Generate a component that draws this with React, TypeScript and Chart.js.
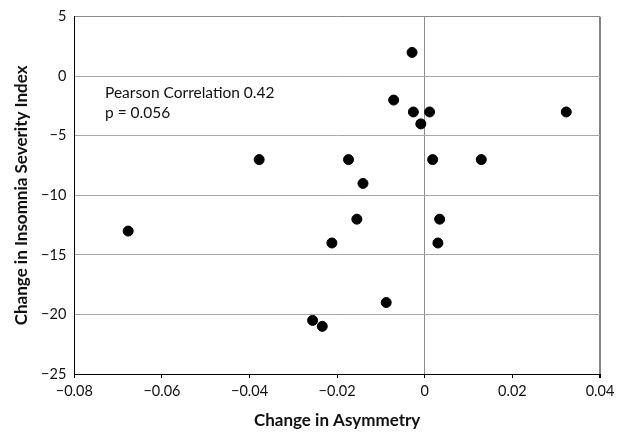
import React, { useEffect, useRef } from "react";
import { Chart, registerables } from "chart.js";

Chart.register(...registerables);

const asymmetry = [
  -0.0029, -0.0071, -0.0026, 0.0011, -0.0009, 0.0323, -0.0174, 0.0018, 0.0129, -0.0141,
  -0.0378, -0.0677, -0.0256, -0.0155, 0.0034, -0.0212, 0.003, -0.0088, -0.0234,
];
const isiChange = [
  2, -2, -3, -3, -4, -3, -7, -7, -7, -9,
  -7, -13, -20.5, -12, -12, -14, -14, -19, -21,
];
const annotationLines = ["Pearson Correlation 0.42", "p = 0.056"];
const xTitle = "Change in Asymmetry";
const yTitle = "Change in Insomnia Severity Index";

const FONT = "Lato, 'Open Sans', sans-serif";
const MINUS = "\u2212";

const annotationPlugin = {
  id: "annotationText",
  afterDraw(chart: any) {
    const ctx = chart.ctx;
    ctx.save();
    ctx.fillStyle = "#111";
    ctx.font = `15.5px ${FONT}`;
    ctx.textAlign = "left";
    ctx.textBaseline = "alphabetic";
    ctx.fillText(annotationLines[0], 105, 98);
    ctx.fillText(annotationLines[1], 105, 118);
    ctx.restore();
  },
};

export default function App() {
  const ref = useRef<HTMLCanvasElement>(null);
  useEffect(() => {
    document.body.style.margin = "0";
    const points = asymmetry.map((x, i) => ({ x, y: isiChange[i] }));
    const chart = new Chart(ref.current as HTMLCanvasElement, {
      type: "scatter",
      data: {
        datasets: [
          {
            data: points,
            backgroundColor: "#000",
            borderColor: "#000",
            pointRadius: 5,
            pointHoverRadius: 5,
          },
        ],
      },
      options: {
        animation: false,
        responsive: false,
        layout: { padding: { top: 13.5, right: 25, left: 0, bottom: 0 } },
        plugins: { legend: { display: false }, tooltip: { enabled: false } },
        scales: {
          x: {
            type: "linear",
            min: -0.08,
            max: 0.04,
            afterFit: (s: any) => {
              s.height = 60;
            },
            ticks: {
              stepSize: 0.02,
              padding: 5,
              color: "#111",
              font: { family: FONT, size: 14.5 },
              callback: (v: any) => {
                const r = Math.round(Number(v) * 100) / 100;
                if (r === 0) return "0";
                return (r < 0 ? MINUS : "") + Math.abs(r).toFixed(2);
              },
            },
            grid: {
              color: (c: any) => {
                const v = c.tick ? c.tick.value : 0;
                if (Math.abs(v) < 1e-9) return "#8c8c8c";
                if (Math.abs(v - 0.04) < 1e-9) return "#858585";
                return "rgba(0,0,0,0)";
              },
              lineWidth: (c: any) => {
                const v = c.tick ? c.tick.value : 0;
                if (Math.abs(v - 0.04) < 1e-9) return 2;
                return 1;
              },
              drawTicks: true,
              tickLength: 4,
              tickColor: "#000",
            },
            border: { color: "#000", width: 1 },
            title: {
              display: true,
              text: xTitle,
              color: "#111",
              font: { family: FONT, size: 17, weight: "bold" },
              padding: { top: 0, bottom: 3 },
            },
          },
          y: {
            type: "linear",
            min: -25,
            max: 5,
            afterFit: (s: any) => {
              s.width = 74.3;
            },
            ticks: {
              stepSize: 5,
              padding: 8,
              color: "#111",
              font: { family: FONT, size: 14.5 },
              callback: (v: any) => {
                const r = Math.round(Number(v));
                return (r < 0 ? MINUS : "") + Math.abs(r);
              },
            },
            grid: {
              color: (c: any) => {
                const v = c.tick ? c.tick.value : 0;
                if (v === 5) return "#8a8a8a";
                return "#a8a8a8";
              },
              lineWidth: 1,
              drawTicks: false,
            },
            border: { color: "#000", width: 1 },
            title: {
              display: true,
              text: yTitle,
              color: "#111",
              font: { family: FONT, size: 17, weight: "bold" },
              padding: { top: 11, bottom: 0 },
            },
          },
        },
      },
      plugins: [annotationPlugin],
    } as any);
    return () => chart.destroy();
  }, []);
  return (
    <div style={{ position: "absolute", left: 0, top: 0, width: 625, height: 434 }}>
      <canvas ref={ref} width={625} height={434} style={{ width: 625, height: 434 }} />
    </div>
  );
}
